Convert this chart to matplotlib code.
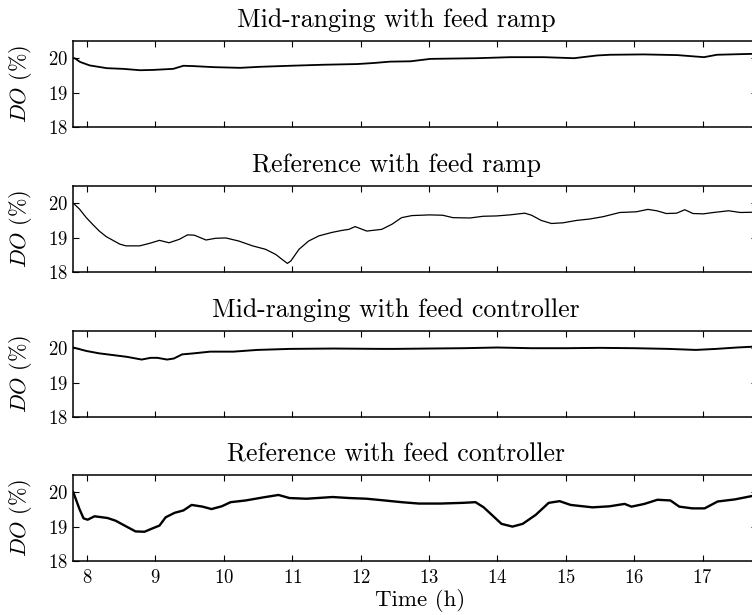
#!/usr/bin/env python3
"""
DO traces for the four feed strategies, stacked panels
"""

import numpy as np
import matplotlib
matplotlib.use("Agg")
import matplotlib.pyplot as plt

plt.rcParams['font.family'] = 'serif'
plt.rcParams['font.serif'] = ['cmr10']
plt.rcParams['mathtext.fontset'] = 'cm'
plt.rcParams['axes.formatter.use_mathtext'] = True

# Panel titles
titles = ['Mid-ranging with feed ramp',
          'Reference with feed ramp',
          'Mid-ranging with feed controller',
          'Reference with feed controller']

# Mid-ranging with feed ramp
t_mr_ramp = [7.80, 7.82, 7.90, 8.04, 8.29, 8.53, 8.78, 8.97, 9.26, 9.41, 9.56,
             9.85, 10.24, 10.53, 10.97, 11.46, 11.95, 12.19, 12.43, 12.73, 13.02,
             13.70, 14.19, 14.68, 15.12, 15.46, 15.65, 16.14, 16.63, 17.02, 17.21,
             17.60, 17.80]
do_mr_ramp = [20.00, 20.00, 19.89, 19.79, 19.71, 19.69, 19.65, 19.66, 19.69, 19.78, 19.77,
              19.74, 19.72, 19.75, 19.78, 19.81, 19.83, 19.86, 19.90, 19.91, 19.98,
              20.00, 20.03, 20.03, 20.00, 20.08, 20.10, 20.11, 20.09, 20.03, 20.10,
              20.12, 20.13]

# Reference with feed ramp
t_ref_ramp = [7.80, 7.89, 7.99, 8.09, 8.18, 8.28, 8.38, 8.48, 8.57, 8.77, 8.91,
              9.06, 9.20, 9.35, 9.47, 9.57, 9.74, 9.88, 10.03, 10.22, 10.42,
              10.61, 10.76, 10.85, 10.93, 10.98, 11.10, 11.24, 11.39, 11.58, 11.73,
              11.83, 11.92, 12.09, 12.31, 12.46, 12.60, 12.75, 13.01, 13.20, 13.35,
              13.60, 13.79, 13.99, 14.18, 14.40, 14.50, 14.64, 14.79, 14.96, 15.16,
              15.35, 15.55, 15.79, 16.03, 16.20, 16.33, 16.47, 16.62, 16.74, 16.86,
              17.01, 17.16, 17.38, 17.55, 17.80]
do_ref_ramp = [20.00, 19.83, 19.58, 19.37, 19.19, 19.03, 18.92, 18.81, 18.76, 18.76, 18.83,
               18.92, 18.85, 18.95, 19.08, 19.07, 18.93, 18.98, 18.99, 18.90, 18.76,
               18.66, 18.51, 18.37, 18.25, 18.32, 18.66, 18.90, 19.05, 19.15, 19.21,
               19.24, 19.32, 19.19, 19.24, 19.39, 19.58, 19.64, 19.66, 19.65, 19.58,
               19.57, 19.62, 19.63, 19.66, 19.71, 19.65, 19.50, 19.41, 19.43, 19.50,
               19.54, 19.61, 19.73, 19.75, 19.82, 19.78, 19.70, 19.71, 19.81, 19.70,
               19.69, 19.73, 19.78, 19.73, 19.74]

# Mid-ranging with feed controller
t_mr_ctrl = [7.80, 7.99, 8.18, 8.38, 8.58, 8.80, 8.93, 9.03, 9.17, 9.27, 9.39,
             9.56, 9.80, 10.14, 10.49, 10.97, 11.61, 12.29, 12.50, 13.00, 13.50,
             14.00, 14.50, 15.00, 15.50, 16.00, 16.50, 16.90, 17.20, 17.50, 17.80]
do_mr_ctrl = [20.02, 19.92, 19.85, 19.80, 19.75, 19.67, 19.72, 19.72, 19.67, 19.70, 19.82,
              19.85, 19.90, 19.90, 19.95, 19.98, 19.99, 19.98, 19.98, 19.99, 20.00,
              20.02, 20.00, 20.00, 20.01, 20.00, 19.98, 19.95, 19.98, 20.02, 20.05]

# Reference with feed controller
t_ref_ctrl = [7.80, 7.89, 7.95, 8.01, 8.11, 8.30, 8.42, 8.55, 8.71, 8.84, 8.96,
              9.06, 9.15, 9.28, 9.41, 9.53, 9.69, 9.82, 9.97, 10.10, 10.32,
              10.58, 10.80, 10.96, 11.21, 11.59, 11.84, 12.09, 12.35, 12.60, 12.85,
              13.17, 13.49, 13.68, 13.80, 13.93, 14.06, 14.22, 14.37, 14.56, 14.75,
              14.91, 15.07, 15.39, 15.64, 15.86, 15.96, 16.15, 16.34, 16.53, 16.66,
              16.85, 17.03, 17.22, 17.47, 17.70, 17.80]
do_ref_ctrl = [20.00, 19.51, 19.24, 19.20, 19.30, 19.25, 19.17, 19.03, 18.86, 18.85, 18.95,
               19.03, 19.27, 19.40, 19.47, 19.63, 19.58, 19.51, 19.59, 19.71, 19.76,
               19.85, 19.92, 19.83, 19.81, 19.86, 19.83, 19.81, 19.76, 19.71, 19.67,
               19.67, 19.69, 19.71, 19.56, 19.32, 19.08, 19.00, 19.08, 19.34, 19.69,
               19.74, 19.63, 19.56, 19.59, 19.66, 19.58, 19.66, 19.78, 19.76, 19.58,
               19.53, 19.53, 19.73, 19.79, 19.88, 19.92]

series = [(t_mr_ramp, do_mr_ramp, 1.3),
          (t_ref_ramp, do_ref_ramp, 0.9),
          (t_mr_ctrl, do_mr_ctrl, 1.4),
          (t_ref_ctrl, do_ref_ctrl, 1.7)]

x_ticks = list(range(8, 18))
y_ticks = [18, 19, 20]

fig = plt.figure(figsize=(7.52, 6.15), dpi=100)

left = 73.3 / 752
width = 684 / 752
height = 86 / 615
bottoms_px = [127, 272, 417, 561]

for i, (title, (t, v, lw)) in enumerate(zip(titles, series)):
    ax = fig.add_axes([left, 1 - bottoms_px[i] / 615, width, height])
    ax.plot(t, v, color='black', linewidth=lw)
    ax.set_xlim(7.8, 17.8)
    ax.set_ylim(18, 20.5)
    ax.set_xticks(x_ticks)
    ax.set_yticks(y_ticks)
    ax.tick_params(direction='in', top=True, right=True, length=4, width=0.8,
                   labelsize=13.5)
    ax.tick_params(axis='x', pad=6)
    ax.tick_params(axis='y', pad=4)
    for s in ax.spines.values():
        s.set_linewidth(1.1)
    ax.set_title(title, fontsize=18.6, pad=10, x=0.472)
    ax.set_ylabel(r'$DO$ (%)', fontsize=16)
    ax.yaxis.set_label_coords(-0.057, 0.5)
    if i < 3:
        ax.set_xticklabels([])
    else:
        ax.set_xlabel('Time (h)', fontsize=16.5)
        ax.xaxis.set_label_coords(0.507, -0.325)

plt.savefig('out.png', dpi=100)
plt.close()
